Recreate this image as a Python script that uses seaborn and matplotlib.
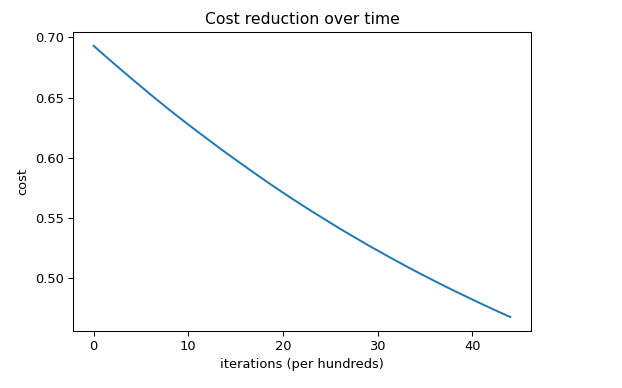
import pandas as pd
import matplotlib
matplotlib.use("Agg")
import matplotlib.pyplot as plt
import seaborn as sns

iterations = list(range(45))
cost = [0.6931, 0.6861, 0.6793, 0.6725, 0.6658, 0.6592, 0.6526, 0.6462, 0.6398,
        0.6336, 0.6275, 0.6215, 0.6156, 0.6097, 0.6039, 0.5982, 0.5926, 0.5870,
        0.5815, 0.5761, 0.5708, 0.5656, 0.5605, 0.5555, 0.5506, 0.5457, 0.5409,
        0.5362, 0.5316, 0.5270, 0.5226, 0.5182, 0.5139, 0.5096, 0.5054, 0.5013,
        0.4973, 0.4933, 0.4894, 0.4856, 0.4818, 0.4781, 0.4744, 0.4708, 0.4673]

df = pd.DataFrame({"iterations": iterations, "cost": cost})

DPI = 94
fig = plt.figure(figsize=(622 / DPI, 388 / DPI), dpi=DPI)
ax = fig.add_axes([0.117, 0.148, 0.737, 0.769])
sns.lineplot(data=df, x="iterations", y="cost", ax=ax, color="#1f77b4", linewidth=1.5)
ax.set_title("Cost reduction over time")
ax.set_xlabel("iterations (per hundreds)")
ax.set_ylabel("cost")
ax.set_xticks([0, 10, 20, 30, 40])
ax.set_yticks([0.50, 0.55, 0.60, 0.65, 0.70])

fig.savefig("out.png", dpi=DPI)
